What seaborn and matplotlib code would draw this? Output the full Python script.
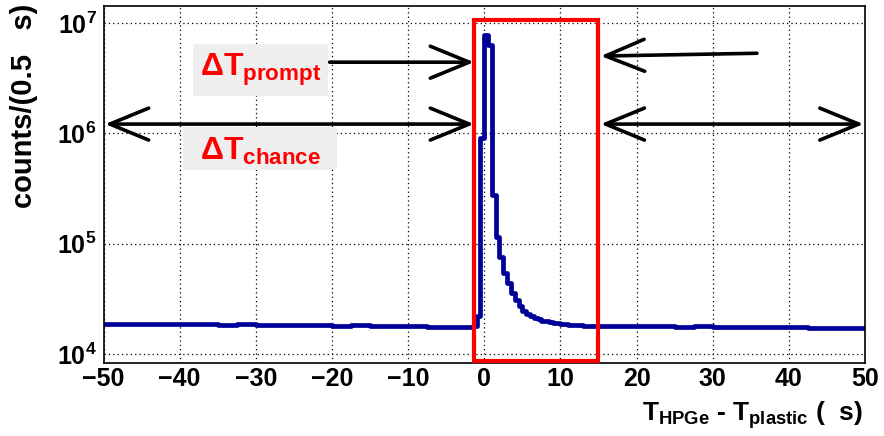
import numpy as np
import pandas as pd
import matplotlib
matplotlib.use("Agg")
import matplotlib.pyplot as plt
import seaborn as sns
from matplotlib.patches import Rectangle
from matplotlib.patches import ArrowStyle
from matplotlib.ticker import LogLocator, MultipleLocator, NullFormatter

# Counts per 0.5 us. The flat chance plateau is stored in 2.5 us blocks,
# the prompt region around zero in single 0.5 us bins.
plateau_left_counts = [1.87e4, 1.86e4, 1.88e4, 1.87e4, 1.86e4, 1.87e4, 1.85e4,
                       1.86e4, 1.84e4, 1.83e4, 1.84e4, 1.82e4, 1.81e4, 1.82e4,
                       1.80e4, 1.79e4, 1.78e4, 1.77e4, 1.76e4]          # -50 .. -2.5
prompt_counts = [1.75e4, 1.74e4, 1.80e4, 2.2e4, 9.0e5, 7.7e6, 6.3e6, 2.75e5,
                 1.15e5, 7.6e4, 5.4e4, 4.4e4, 3.55e4, 3.1e4, 2.7e4, 2.45e4,
                 2.32e4, 2.22e4, 2.14e4, 2.07e4, 2.01e4, 1.97e4, 1.94e4,
                 1.91e4, 1.89e4, 1.87e4, 1.86e4, 1.85e4, 1.84e4, 1.83e4,
                 1.82e4, 1.81e4, 1.81e4, 1.80e4, 1.80e4]                # -2.5 .. 15
plateau_right_counts = [1.79e4, 1.78e4, 1.79e4, 1.78e4, 1.77e4, 1.78e4, 1.77e4,
                        1.76e4, 1.77e4, 1.75e4, 1.74e4, 1.73e4, 1.73e4, 1.72e4]  # 15 .. 50

# prompt coincidence window (us)
prompt_window = [-1.35, 14.9]

edges = np.concatenate([np.arange(-50.0, -2.5, 2.5),
                        np.arange(-2.5, 15.0, 0.5),
                        np.arange(15.0, 50.01, 2.5)])
counts = np.concatenate([plateau_left_counts, prompt_counts, plateau_right_counts])
# step outline: each bin height starts at its left edge, last height closes at x = 50
df = pd.DataFrame({"dt": edges, "counts": np.append(counts, counts[-1])})

sns.set_style("white")
plt.rcParams.update({
    "font.family": ["Liberation Sans", "DejaVu Sans"],
    "font.weight": "bold",
    "axes.labelweight": "bold",
    "text.color": "black",
    "axes.labelcolor": "black",
    "xtick.color": "black",
    "ytick.color": "black",
    "mathtext.fontset": "custom",
    "mathtext.rm": "Liberation Sans",
    "mathtext.it": "Liberation Sans:bold",
    "mathtext.bf": "Liberation Sans:bold",
    "axes.unicode_minus": True,
})

fig = plt.figure(figsize=(8.84, 4.36), dpi=100)
ax = fig.add_axes([0.1171, 0.1681, 0.8614, 0.8181])

sns.lineplot(data=df, x="dt", y="counts", drawstyle="steps-post", estimator=None,
             color="#000099", linewidth=3.4, ax=ax, zorder=2)

ax.set_yscale("log")
ax.set_xlim(-50, 50)
ax.set_ylim(8340, 1.42e7)

# axes, ticks and dotted grid
ax.xaxis.set_major_locator(MultipleLocator(10))
ax.xaxis.set_minor_locator(MultipleLocator(2))
ax.yaxis.set_major_locator(LogLocator(base=10, numticks=10))
ax.yaxis.set_minor_locator(LogLocator(base=10, subs=np.arange(2, 10), numticks=20))
ax.yaxis.set_minor_formatter(NullFormatter())
ax.tick_params(axis="both", which="both", direction="in", top=False, right=False,
               colors="black", width=1.0, labelsize=18)
ax.tick_params(axis="x", which="major", length=9, pad=3)
ax.tick_params(axis="x", which="minor", length=4.5)
ax.tick_params(axis="y", which="major", length=13, pad=5)
ax.tick_params(axis="y", which="minor", length=6.5)
for sp in ax.spines.values():
    sp.set_color("black")
    sp.set_linewidth(1.2)
ax.grid(True, which="major", axis="both", color="black", linewidth=0.9,
        linestyle=(0, (1, 2.5)))
ax.set_axisbelow(True)

ax.set_xlabel(r"$T_{HPGe}$ - $T_{plastic}$ (  s)", fontsize=19, loc="right",
              fontweight="bold", color="black")
ax.xaxis.set_label_coords(0.9974, -0.103)
ax.set_ylabel("counts/(0.5   s)", fontsize=21, loc="top", fontweight="bold",
              color="black")
ax.yaxis.set_label_coords(-0.086, 1.008)

# prompt window
ylo, yhi = 8700, 1.06e7
ax.add_patch(Rectangle((prompt_window[0], ylo), prompt_window[1] - prompt_window[0],
                       yhi - ylo, fill=False, edgecolor="#ff0000", linewidth=3.0,
                       zorder=4, clip_on=False))

# arrows marking the prompt and chance windows
head = dict(head_length=2.8, head_width=1.15)
def arrow(tip, tail, style):
    ax.annotate("", xy=tip, xytext=tail,
                arrowprops=dict(arrowstyle=ArrowStyle(style, **head), color="black",
                                lw=2.6, shrinkA=0, shrinkB=0, mutation_scale=10),
                zorder=5)

arrow((prompt_window[0], 4.4e6), (-20.3, 4.4e6), "->")
arrow((15.3, 5.0e6), (35.8, 5.3e6), "->")
arrow((prompt_window[0], 1.21e6), (-49.8, 1.21e6), "<->")
arrow((49.8, 1.21e6), (15.3, 1.21e6), "<->")

# labels on light grey panels
ax.add_patch(Rectangle((0.1175, 0.7479), 0.1773, 0.1458, transform=ax.transAxes,
                       facecolor="#efefef", edgecolor="none", zorder=5))
ax.add_patch(Rectangle((0.1044, 0.5402), 0.2022, 0.1206, transform=ax.transAxes,
                       facecolor="#efefef", edgecolor="none", zorder=5))
ax.text(0.206, 0.8206, r"$\Delta T_{prompt}$", transform=ax.transAxes, color="#ff0000",
        fontsize=23, ha="center", va="center", zorder=6)
ax.text(0.2055, 0.592, r"$\Delta T_{chance}$", transform=ax.transAxes, color="#ff0000",
        fontsize=23, ha="center", va="center", zorder=6)

fig.savefig("out.png", dpi=100)
